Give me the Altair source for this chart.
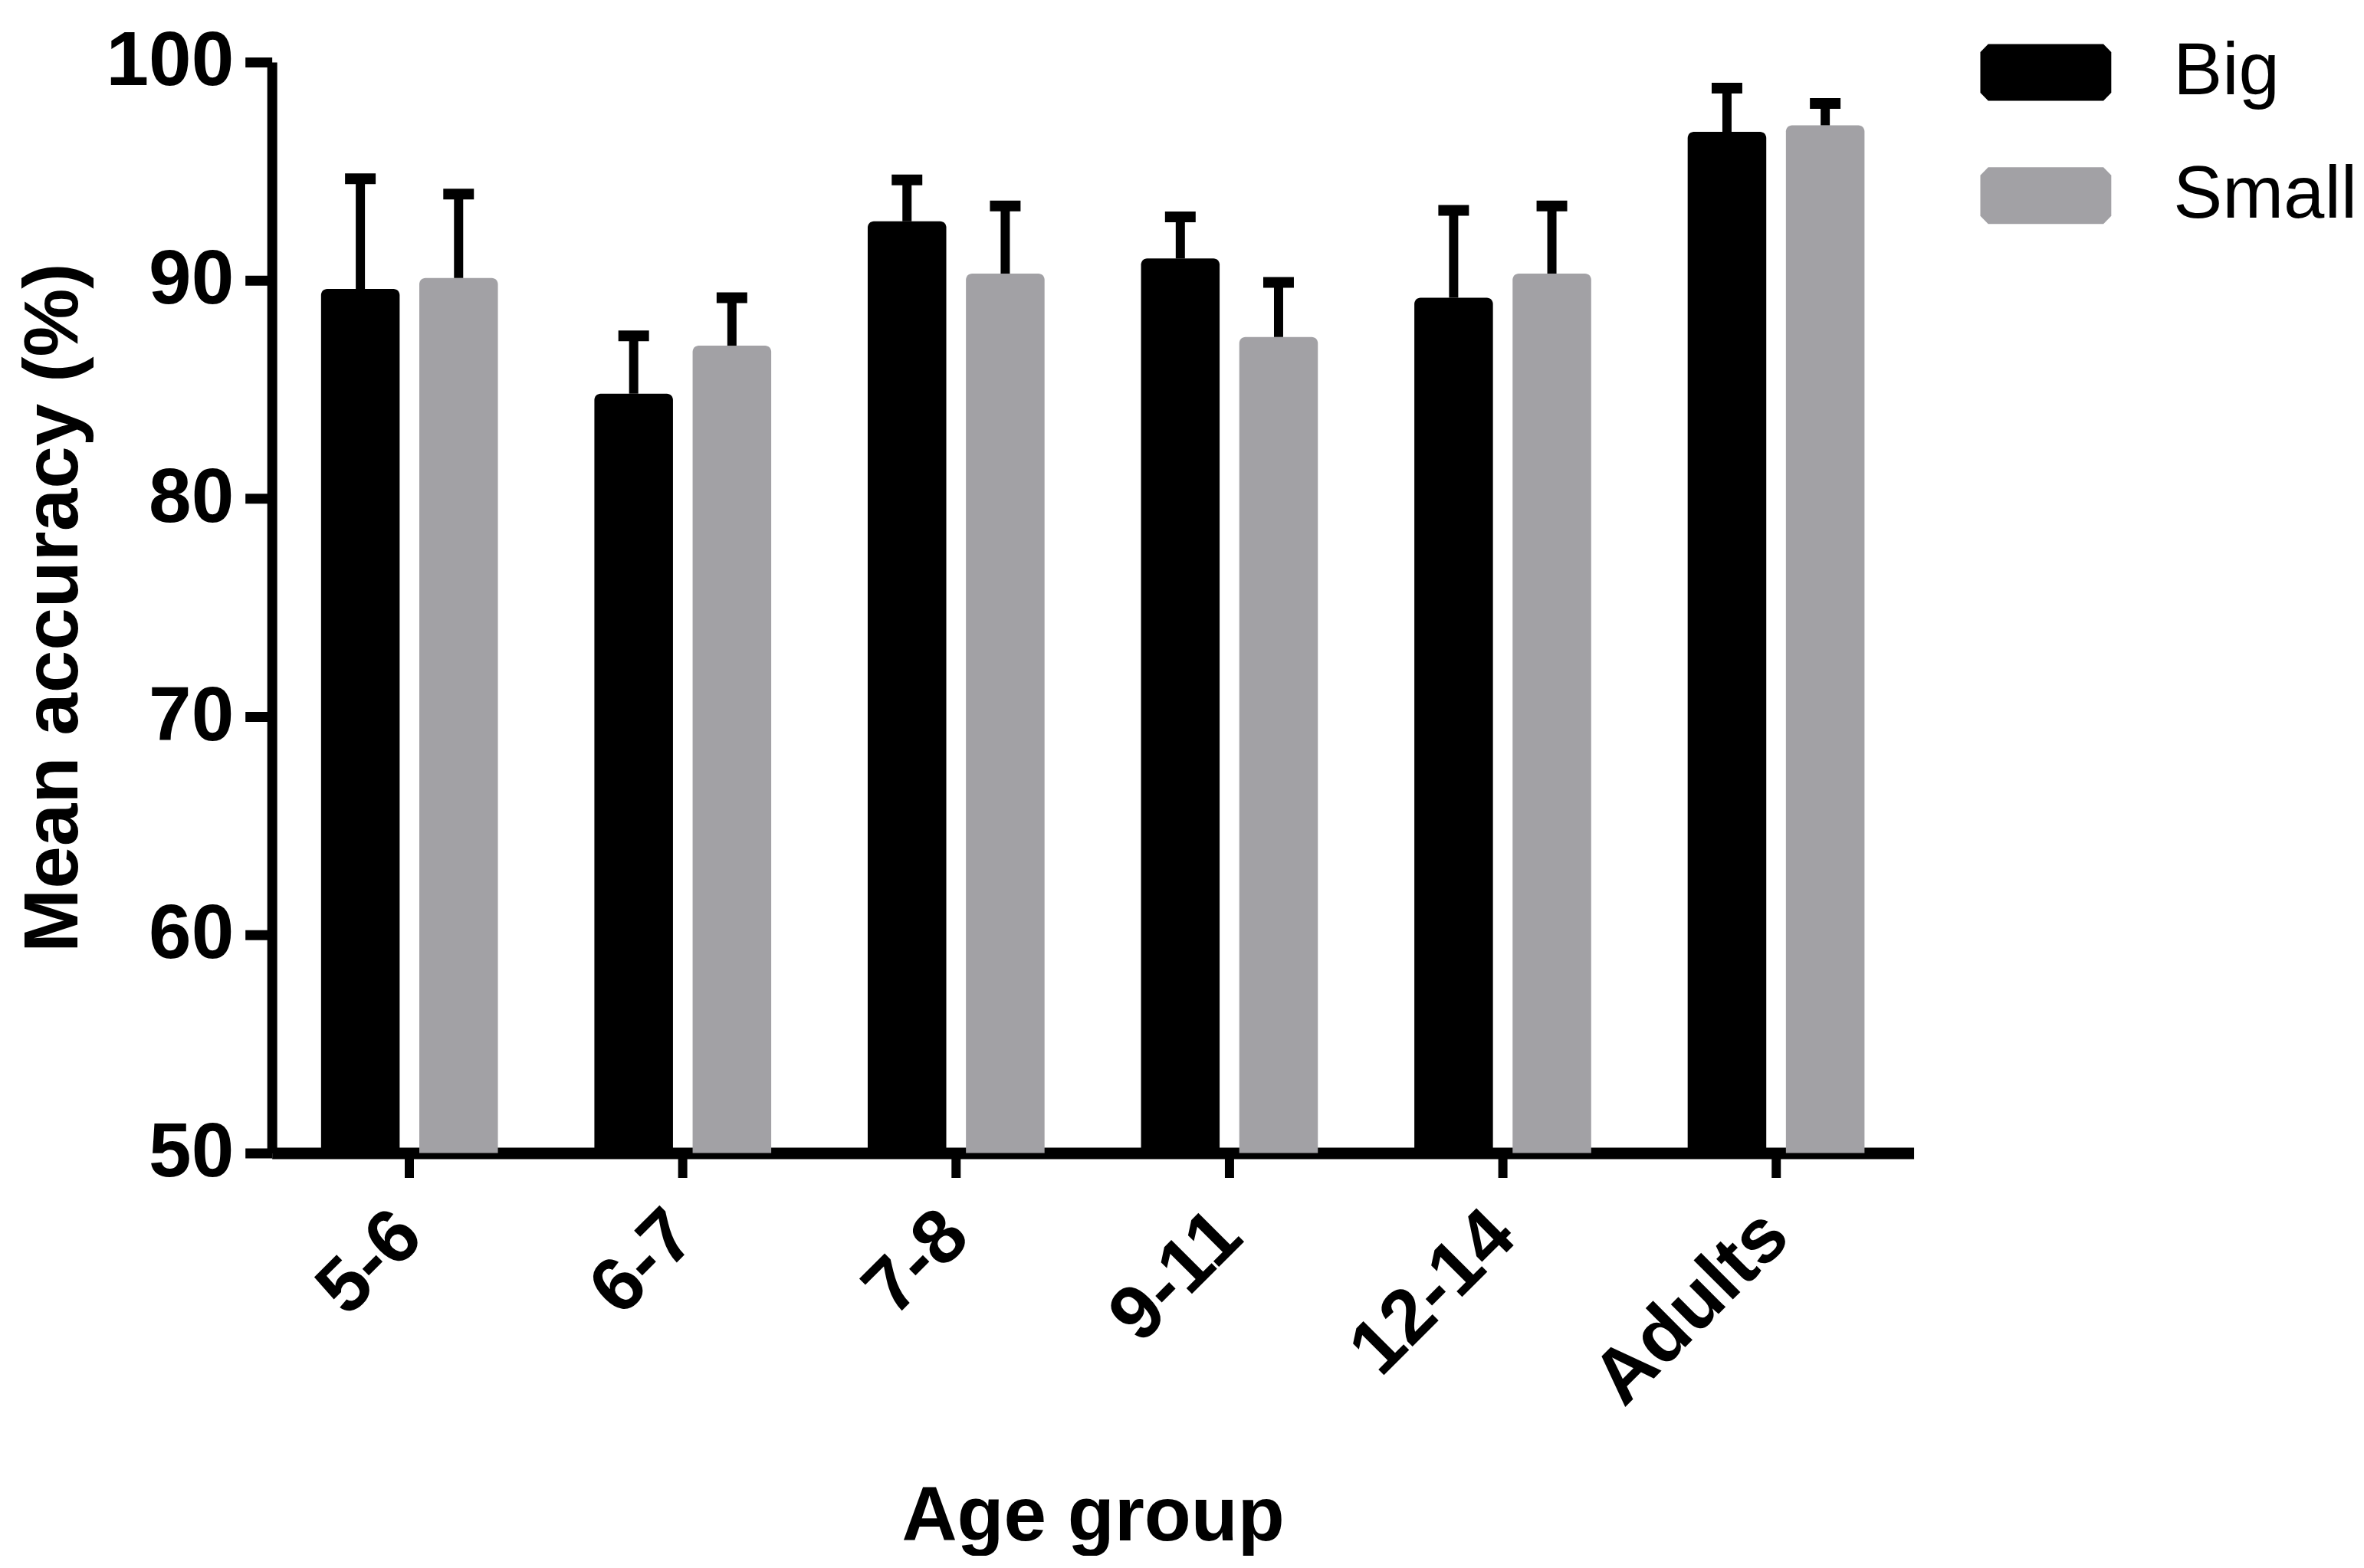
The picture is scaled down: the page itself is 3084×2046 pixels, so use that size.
import altair as alt
import pandas as pd

groups = ["5-6", "6-7", "7-8", "9-11", "12-14", "Adults"]
conditions = ["Big", "Small"]
big_mean = [89.6, 84.8, 92.7, 91.0, 89.2, 96.8]
big_upper = [94.65, 87.45, 94.6, 92.9, 93.2, 98.8]
small_mean = [90.1, 87.0, 90.3, 87.4, 90.3, 97.1]
small_upper = [93.95, 89.2, 93.4, 89.9, 93.4, 98.1]

rows = []
for i, g in enumerate(groups):
    rows.append(dict(group=g, size="Big", mean=big_mean[i], upper=big_upper[i]))
    rows.append(dict(group=g, size="Small", mean=small_mean[i], upper=small_upper[i]))
df = pd.DataFrame(rows)

FONT = "Liberation Sans"
SWATCH = "M-1,-0.31 L-0.88,-0.433 L0.88,-0.433 L1,-0.31 L1,0.31 L0.88,0.433 L-0.88,0.433 L-1,0.31 Z"

x = alt.X(
    "group:N", sort=groups,
    scale=alt.Scale(paddingInner=0.353, paddingOuter=0.18),
    axis=alt.Axis(
        title="Age group", labelAngle=-45, labelAlign="right", labelBaseline="middle",
        labelFont=FONT, labelFontSize=100, labelFontWeight="bold", labelColor="black",
        labelPadding=60, labelLimit=2000, tickSize=32, tickWidth=12, tickColor="black",
        domainWidth=15, domainColor="black",
        titleFont=FONT, titleFontSize=100, titleFontWeight="bold", titleColor="black",
        titlePadding=226,
    ),
)
xoff = alt.XOffset("size:N", sort=conditions, scale=alt.Scale(paddingInner=0.2, paddingOuter=0))
yscale = alt.Scale(domain=[50, 100], zero=False, nice=False)
y = alt.Y(
    "mean:Q", scale=yscale,
    axis=alt.Axis(
        values=[50, 60, 70, 80, 90, 100], title="Mean accuracy (%)", grid=False,
        labelFont=FONT, labelFontSize=100, labelFontWeight="bold", labelColor="black",
        labelPadding=15, tickSize=35, tickWidth=13, tickColor="black",
        domainWidth=13, domainColor="black",
        titleFont=FONT, titleFontSize=100, titleFontWeight="bold", titleColor="black",
        titlePadding=33,
    ),
)
color = alt.Color(
    "size:N", sort=conditions,
    scale=alt.Scale(domain=conditions, range=["#000000", "#a2a1a5"]),
    legend=alt.Legend(
        title=None, orient="none", legendX=2231, legendY=-72, padding=0,
        symbolType=SWATCH, symbolSize=29241, symbolStrokeWidth=0, symbolOpacity=1,
        labelFont=FONT, labelFontSize=96, labelColor="black", labelOffset=81,
        labelLimit=1000, rowPadding=27,
    ),
)

bars = alt.Chart(df).mark_bar(cornerRadiusTopLeft=8, cornerRadiusTopRight=8).encode(
    x=x, xOffset=xoff, y=y, y2=alt.datum(50), color=color
)
stems = alt.Chart(df).mark_rule(color="black", strokeWidth=12).encode(
    x=x, xOffset=xoff, y=alt.Y("mean:Q", scale=yscale), y2="upper:Q"
)
caps = alt.Chart(df).mark_tick(color="black", thickness=14, size=40, opacity=1).encode(
    x=x, xOffset=xoff, y=alt.Y("upper:Q", scale=yscale)
)

chart = (
    alt.layer(bars, stems, caps)
    .properties(width=2144, height=1425, padding={"left": 13, "top": 0, "right": 0, "bottom": 0})
    .configure_view(stroke=None)
)
chart.save("out.html", embed_options={"renderer": "svg", "actions": False})
